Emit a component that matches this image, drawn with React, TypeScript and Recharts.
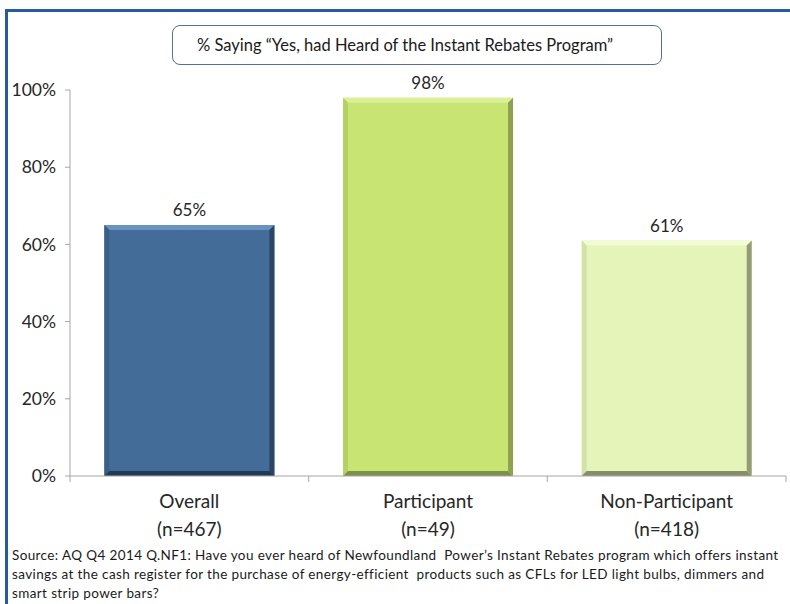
import React from "react";
import { BarChart, Bar, XAxis, YAxis, LabelList, Cell } from "recharts";

const categories = ["Overall", "Participant", "Non-Participant"];
const sampleSizes = ["(n=467)", "(n=49)", "(n=418)"];
const heardPct = [65, 98, 61];
const yTicks = [0, 20, 40, 60, 80, 100];

const title = "% Saying \u201cYes, had Heard of the Instant Rebates Program\u201d";
const sourceLines = [
  "Source: AQ Q4 2014 Q.NF1: Have you ever heard of Newfoundland  Power\u2019s Instant Rebates program which offers instant",
  "savings at the cash register for the purchase of energy-efficient  products such as CFLs for LED light bulbs, dimmers and",
  "smart strip power bars?",
];

// face, top highlight, left, right, bottom
const bevels = [
  { face: "#436c98", top: "#6a92bf", left: "#3a5f87", right: "#2b4665", bottom: "#233a54" },
  { face: "#c8e574", top: "#dcf09a", left: "#b5d065", right: "#8ea153", bottom: "#7f904a" },
  { face: "#e5f5b9", top: "#f1fbd4", left: "#d3e2a6", right: "#949c76", bottom: "#868d68" },
];

const data = categories.map((name, i) => ({ name, n: sampleSizes[i], value: heardPct[i] }));

const FONT = "Lato, 'Open Sans', sans-serif";

function BevelBar(props: any) {
  const { x, y, width, height, index } = props;
  if (!width || !height) return null;
  const c = bevels[index % bevels.length];
  const b = 5;
  const x2 = x + width;
  const y2 = y + height;
  return (
    <g>
      <rect x={x} y={y} width={width} height={height} fill={c.face} />
      <polygon points={`${x},${y} ${x2},${y} ${x2 - b},${y + b} ${x + b},${y + b}`} fill={c.top} />
      <polygon points={`${x},${y} ${x + b},${y + b} ${x + b},${y2 - b} ${x},${y2}`} fill={c.left} />
      <polygon points={`${x2},${y} ${x2},${y2} ${x2 - b},${y2 - b} ${x2 - b},${y + b}`} fill={c.right} />
      <polygon points={`${x},${y2} ${x + b},${y2 - b} ${x2 - b},${y2 - b} ${x2},${y2}`} fill={c.bottom} />
    </g>
  );
}

function CategoryTick(props: any) {
  const { x, y, payload, index } = props;
  const half = payload && payload.offset ? payload.offset : 0;
  return (
    <g>
      {half > 0 && (
        <line x1={x + half} y1={y - 8} x2={x + half} y2={y - 2} stroke="#a6a6a6" />
      )}
      {half > 0 && index === 0 && (
        <line x1={x - half} y1={y - 8} x2={x - half} y2={y - 2} stroke="#a6a6a6" />
      )}
      <text x={x} y={y + 24} textAnchor="middle" fontSize={19} fill="#262626" fontFamily={FONT}>
        <tspan x={x}>{payload.value}</tspan>
        <tspan x={x} dy={28}>{sampleSizes[index]}</tspan>
      </text>
    </g>
  );
}

export default function App() {
  return (
    <div
      style={{
        position: "absolute",
        left: 0,
        top: 0,
        width: 790,
        height: 604,
        background: "#fff",
        overflow: "hidden",
        fontFamily: FONT,
      }}
    >
      <div
        style={{
          position: "absolute",
          left: 5,
          top: 9,
          width: 800,
          height: 620,
          borderTop: "3px solid #245c9c",
          borderLeft: "3px solid #245c9c",
        }}
      />
      <div
        style={{
          position: "absolute",
          left: 172,
          top: 25,
          width: 464,
          height: 38,
          border: "1.5px solid #58708f",
          borderRadius: 8,
          fontSize: 16.5,
          color: "#1a1a1a",
          lineHeight: "38px",
          paddingLeft: 24,
          boxSizing: "content-box",
          whiteSpace: "nowrap",
        }}
      >
        {title}
      </div>
      <div style={{ position: "absolute", left: 0, top: 0 }}>
        <BarChart
          width={790}
          height={604}
          data={data}
          margin={{ top: 90, right: 4, bottom: 60, left: 0 }}
          barCategoryGap="14.4%"
        >
          <YAxis
            type="number"
            domain={[0, 100]}
            ticks={yTicks}
            width={70}
            tickFormatter={(v: number) => `${v}%`}
            axisLine={{ stroke: "#a6a6a6" }}
            tickLine={{ stroke: "#a6a6a6" }}
            tickSize={5}
            tickMargin={9}
            tick={{ fontSize: 17.5, fill: "#262626", fontFamily: FONT }}
            interval={0}
          />
          <XAxis
            dataKey="name"
            height={68}
            axisLine={{ stroke: "#a6a6a6" }}
            tickLine={false}
            tick={<CategoryTick />}
            interval={0}
          />
          <Bar dataKey="value" isAnimationActive={false} shape={<BevelBar />}>
            {data.map((d, i) => (
              <Cell key={d.name} fill={bevels[i].face} />
            ))}
            <LabelList
              dataKey="value"
              position="top"
              offset={9}
              formatter={(v: any) => `${v}%`}
              style={{ fontSize: 17, fill: "#262626", fontFamily: FONT }}
            />
          </Bar>
        </BarChart>
      </div>
      <div
        style={{
          position: "absolute",
          left: 12,
          top: 546,
          fontSize: 13.5,
          letterSpacing: 0.38,
          lineHeight: "19px",
          color: "#1a1a1a",
          whiteSpace: "pre",
        }}
      >
        {sourceLines.map((l) => (
          <div key={l}>{l}</div>
        ))}
      </div>
    </div>
  );
}
